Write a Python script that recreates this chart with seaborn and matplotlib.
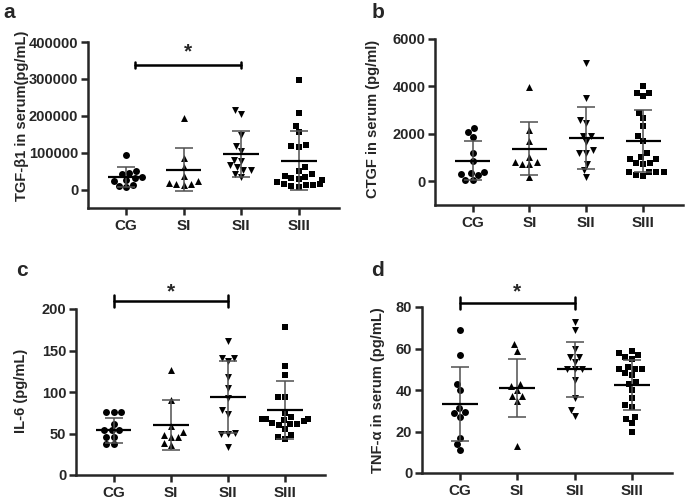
import numpy as np
import pandas as pd
import matplotlib
matplotlib.use("Agg")
import matplotlib.pyplot as plt
import seaborn as sns

groups = ["CG", "SI", "SII", "SIII"]
markers = ["o", "^", "v", "s"]

# panel a: TGF-b1
cg_a = [95000, 50000, 46000, 42000, 35000, 30000, 27000, 24000, 12000, 10000, 8000]
si_a = [195000, 85000, 60000, 38000, 22000, 18000, 15000, 14000, 12000]
sii_a = [215000, 206000, 147000, 118000, 105000, 81000, 78000, 66000, 61000, 52000, 52000, 42000, 34000]
siii_a = [297000, 208000, 172000, 155000, 120000, 117000, 115000, 60000, 50000, 42000, 38000,
          35000, 30000, 28000, 25000, 20000, 15000, 14000, 13000, 12000, 10000, 8000]
mean_a = [34000, 54000, 96000, 78000]
sd_a = [26000, 58000, 62000, 80000]

# panel b: CTGF
cg_b = [2250, 2080, 1850, 1200, 850, 380, 350, 300, 250, 60, 50]
si_b = [3960, 2150, 1700, 1040, 740, 740, 810, 810, 200]
sii_b = [4970, 3520, 2580, 2460, 1920, 1920, 1650, 1300, 1200, 1200, 730, 460, 180]
siii_b = [4030, 3740, 3720, 3580, 2900, 2660, 2330, 1900, 1690, 1190, 1010, 940, 940, 770,
          770, 730, 380, 380, 380, 380, 280, 210]
mean_b = [870, 1380, 1830, 1690]
sd_b = [830, 1120, 1300, 1310]

# panel c: IL-6
cg_c = [76, 76, 76, 62, 54, 54, 54, 46, 46, 37, 37]
si_c = [127, 90, 59, 52, 48, 46, 46, 39, 36]
sii_c = [162, 141, 141, 137, 118, 105, 93, 78, 74, 51, 50, 49, 34]
siii_c = [178, 131, 120, 94, 94, 75, 70, 68, 68, 67, 66, 65, 63, 62, 61, 60, 55, 48, 46, 43]
mean_c = [54, 60, 94, 78]
sd_c = [15, 30, 43, 35]

# panel d: TNF-a
cg_d = [69, 57, 43, 40, 31.5, 29.5, 29, 27, 17, 14, 11]
si_d = [62, 59, 43, 42, 40, 37, 37, 34.5, 13]
sii_d = [73, 69, 60, 56, 56, 53.5, 50, 50, 50, 45, 36, 30.5, 27.5]
siii_d = [59, 58, 57, 56, 55, 51, 50, 50, 50, 48, 47, 44, 43, 40, 36, 33, 32, 27, 26, 24, 20]
mean_d = [33.4, 41, 50, 42.3]
sd_d = [17.9, 14, 13.3, 12]

sns.set_style("ticks")
plt.rcParams["font.family"] = ["Liberation Sans", "DejaVu Sans"]
plt.rcParams["font.weight"] = "bold"
plt.rcParams["axes.labelweight"] = "bold"

fig = plt.figure(figsize=(6.85, 5.01), dpi=100)
W, H = 685, 501


def make_ax(l, r, t, b):
    return fig.add_axes([l / W, 1 - b / H, (r - l) / W, (b - t) / H])


panels = [
    dict(ax=make_ax(88, 339, 42, 208), data=[cg_a, si_a, sii_a, siii_a], mean=mean_a, sd=sd_a,
         ylim=(-50000, 400000), ticks=np.arange(0, 400001, 100000),
         ylabel="TGF-β1 in serum(pg/mL)", lab=(-0.235, 0.555), letter="a", lpos=(9, 13),
         sig=(0.15, 2, 337000, 8000, 372000)),
    dict(ax=make_ax(435, 683, 39, 205), data=[cg_b, si_b, sii_b, siii_b], mean=mean_b, sd=sd_b,
         ylim=(-1000, 6000), ticks=np.arange(0, 6001, 2000),
         ylabel="CTGF in serum (pg/ml)", lab=(-0.222, 0.52), letter="b", lpos=(378, 13), sig=None),
    dict(ax=make_ax(76, 325, 309, 475), data=[cg_c, si_c, sii_c, siii_c], mean=mean_c, sd=sd_c,
         ylim=(0, 200), ticks=np.arange(0, 201, 50),
         ylabel="IL-6 (pg/mL)", lab=(-0.193, 0.506), letter="c", lpos=(22, 271),
         sig=(0, 2, 209.6, 7, 221)),
    dict(ax=make_ax(422, 672, 307, 473), data=[cg_d, si_d, sii_d, siii_d], mean=mean_d, sd=sd_d,
         ylim=(0, 80), ticks=np.arange(0, 81, 20),
         ylabel="TNF-α in serum (pg/mL)", lab=(-0.148, 0.5), letter="d", lpos=(378, 270),
         sig=(0, 2, 82, 2.8, 87.5)),
]

for p in panels:
    ax = p["ax"]
    for g, vals, m in zip(groups, p["data"], markers):
        df = pd.DataFrame({"group": g, "value": vals})
        sns.swarmplot(data=df, x="group", y="value", order=groups, marker=m, color="black",
                      size=5, linewidth=0, ax=ax, zorder=3)
    xs = np.arange(len(groups))
    ax.errorbar(xs, p["mean"], yerr=p["sd"], fmt="none", ecolor="#505050", elinewidth=1.1,
                capsize=6.5, capthick=1.1, zorder=4)
    ax.hlines(p["mean"], xs - 0.31, xs + 0.31, color="black", lw=1.6, zorder=5)

    ax.set_xlim(-0.66, 3.7)
    ax.set_ylim(*p["ylim"])
    ax.set_yticks(p["ticks"])
    ax.set_xlabel("")
    ax.set_ylabel(p["ylabel"], fontsize=10.5, fontweight="bold")
    ax.yaxis.set_label_coords(*p["lab"])
    sns.despine(ax=ax)
    for s in ["left", "bottom"]:
        ax.spines[s].set_linewidth(1.8)
    ax.tick_params(axis="both", width=1.8, length=5, labelsize=10.5, pad=2)
    ax.tick_params(axis="x", pad=3, labelsize=11)
    for t in ax.get_xticklabels() + ax.get_yticklabels():
        t.set_fontweight("bold")

    fig.text(p["lpos"][0] / W, 1 - p["lpos"][1] / H, p["letter"], fontsize=15,
             fontweight="bold", ha="center", va="center")

    if p["sig"] is not None:
        x0, x1, y, cap, ys = p["sig"]
        ax.plot([x0, x1], [y, y], color="black", lw=1.8, clip_on=False)
        for xx in (x0, x1):
            ax.plot([xx, xx], [y - cap, y + cap], color="black", lw=1.8, clip_on=False)
        ax.text((x0 + x1) / 2, ys, "*", ha="center", va="center", fontsize=15,
                fontweight="bold", clip_on=False)

fig.savefig("out.png", dpi=100)
